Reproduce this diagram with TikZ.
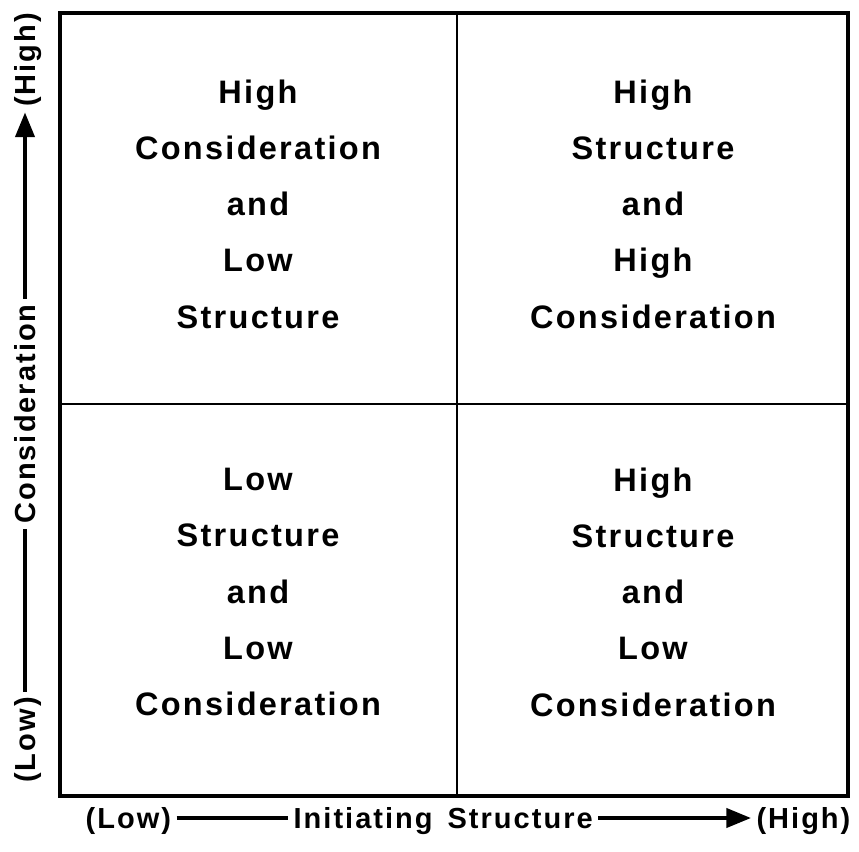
\documentclass[tikz,border=0pt]{standalone}
\usepackage{fontspec}
\setmainfont{Liberation Sans}[LetterSpace=7]
\newfontfamily\cellfont{Liberation Sans}[LetterSpace=7]
\usetikzlibrary{arrows.meta}

\begin{document}
\begin{tikzpicture}[
    x=0.02cm, y=-0.02cm,
    % Define Styles for Consistency
    cell/.style={
        align=center, inner sep=0pt,
        font=\cellfont\fontsize{18.5}{32}\selectfont\bfseries
    },
    axis/.style={
        font=\fontsize{16.5}{19}\selectfont\bfseries,
        text height=11.8pt, text depth=0pt, inner sep=3pt
    },
    frame/.style={line width=2.8pt, line join=miter},
    divider/.style={line width=1.7pt},
    axisline/.style={line width=1.8pt},
    axisarrow/.style={
        axisline, -{Triangle[length=14pt, width=11pt]}
    }
]
    \useasboundingbox (0,0) rectangle (859,852);

    % --- 1. The Grid ---
    \draw[frame] (60,13) rectangle (848,796);
    \draw[divider] (457,13) -- (457,796);
    \draw[divider] (60,404) -- (848,404);

    % --- 2. The Four Quadrants ---

    % Top Left
    \node[cell] (hcls) at (258,204) {High\\Consideration\\and\\Low\\Structure};

    % Top Right
    \node[cell] (hshc) at (653,204) {High\\Structure\\and\\High\\Consideration};

    % Bottom Left
    \node[cell] (lslc) at (258,592) {Low\\Structure\\and\\Low\\Consideration};

    % Bottom Right
    \node[cell] (hslc) at (653,592) {High\\Structure\\and\\Low\\Consideration};

    % --- 3. Axis Labels ---

    % Horizontal axis
    \node[axis, anchor=west] (xlow) at (80,818) {(Low)};
    \node[axis, anchor=west] (xinit) at (288,818) {Initiating};
    \node[axis, anchor=west] (xstruct) at (442,818) {Structure};
    \node[axis, anchor=east] (xhigh) at (856,818) {(High)};

    % Vertical axis
    \node[axis, rotate=90] (yhigh) at (25,60) {(High)};
    \node[axis, rotate=90] (ycons) at (25,414) {Consideration};
    \node[axis, rotate=90] (ylow) at (25,740) {(Low)};

    % --- 4. Axis Arrows ---
    \draw[axisline] (xlow) -- (xinit);
    \draw[axisarrow] (xstruct) -- (xhigh);
    \draw[axisline] (ylow) -- (ycons);
    \draw[axisarrow] (ycons) -- (yhigh);

\end{tikzpicture}
\end{document}
